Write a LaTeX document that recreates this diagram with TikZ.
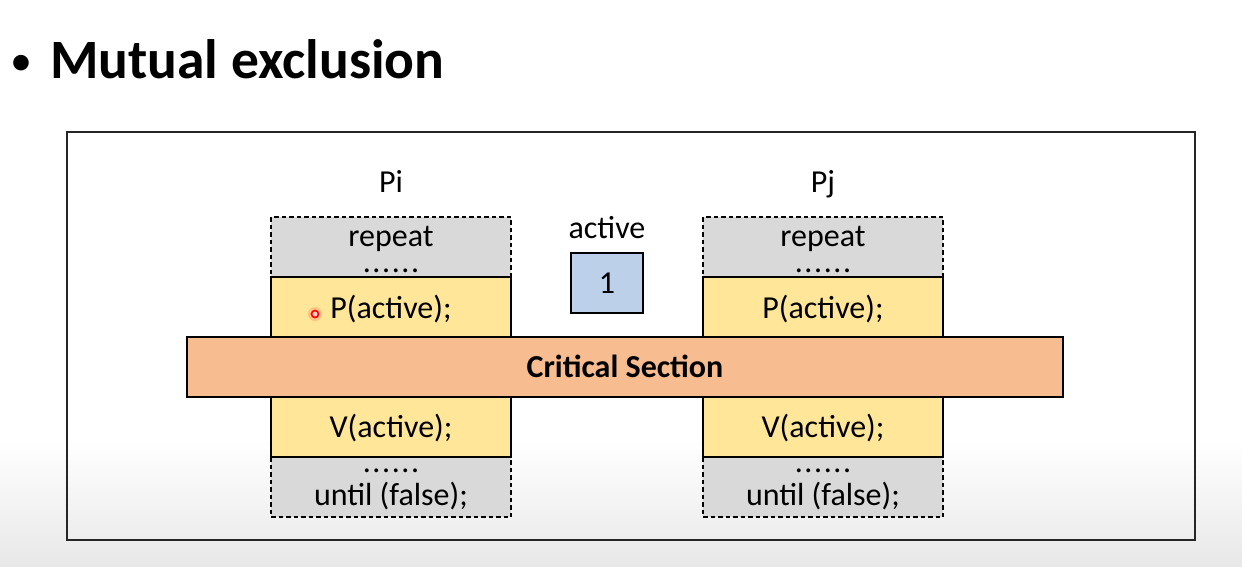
\documentclass[tikz,border=0pt]{standalone}
\usepackage{fontspec}
\setmainfont{Carlito}
\definecolor{grayfill}{HTML}{D9D9D9}
\definecolor{yelfill}{HTML}{FFE699}
\definecolor{orfill}{HTML}{F8BC91}
\definecolor{bluefill}{HTML}{BDD0EA}
\definecolor{bgbottom}{HTML}{E8E8E8}
\newcommand\sixdots{.\kern1.6pt.\kern1.6pt.\kern1.6pt.\kern1.6pt.\kern1.6pt.}
\tikzset{
  graybox/.style={draw=black, dash pattern=on 4.5pt off 3pt, line width=1.2pt, fill=grayfill, minimum width=240, minimum height=60, inner sep=0},
  yelbox/.style={draw=black, line width=1.8pt, fill=yelfill, minimum width=240, minimum height=60, inner sep=0},
  csbox/.style={draw=black, line width=1.8pt, fill=orfill, minimum width=876, minimum height=60, inner sep=0},
  valbox/.style={draw=black, line width=1.5pt, fill=bluefill, minimum width=72, minimum height=60, inner sep=0},
  txt/.style={anchor=base, inner sep=0, font=\fontsize{32}{38}\selectfont},
  frame/.style={draw=black!85, line width=1.8pt}
}
\begin{document}
\begin{tikzpicture}[x=1pt,y=-1pt]
\useasboundingbox (0,0) rectangle (1242,566);
\fill[white] (0,0) rectangle (1242,566);
\shade[top color=white, bottom color=bgbottom] (0,440) rectangle (1242,566);
% title
\node[anchor=base, inner sep=0, font=\fontsize{44}{50}\selectfont] (bul) at (21,75) {•};
\node[anchor=base west, inner sep=0, font=\fontsize{55.5}{60}\selectfont\bfseries] (title) at (50,78) {Mutual exclusion};
% outer frame
\node[frame, minimum width=1128, minimum height=408, inner sep=0] (frm) at (631,336) {};
% labels
\node[txt] (pi) at (391,192) {Pi};
\node[txt] (pj) at (823,192) {Pj};
% Pi column
\node[graybox] (pitop) at (391,247) {};
\node[graybox] (pibot) at (391,487) {};
\node[yelbox] (pip) at (391,307) {};
\node[yelbox] (piv) at (391,427) {};
% Pj column
\node[graybox] (pjtop) at (823,247) {};
\node[graybox] (pjbot) at (823,487) {};
\node[yelbox] (pjp) at (823,307) {};
\node[yelbox] (pjv) at (823,427) {};
% critical section
\node[csbox] (cs) at (625,367) {};
\node[txt, font=\fontsize{32}{38}\selectfont\bfseries] (cst) at (625,377) {Critical Section};
% active
\node[txt] (actl) at (607,238) {active};
\node[valbox] (act) at (607,283) {};
\node[txt] (one) at (607,293) {1};
% texts Pi
\node[txt] (pirep) at (391,246) {repeat};
\node[txt] (pid1) at (391,272) {\sixdots};
\node[txt] (pipt) at (391,318) {P(active);};
\node[txt] (pivt) at (391,437) {V(active);};
\node[txt] (pid2) at (391,472) {\sixdots};
\node[txt] (piun) at (391,505) {until (false);};
% texts Pj
\node[txt] (pjrep) at (823,246) {repeat};
\node[txt] (pjd1) at (823,272) {\sixdots};
\node[txt] (pjpt) at (823,318) {P(active);};
\node[txt] (pjvt) at (823,437) {V(active);};
\node[txt] (pjd2) at (823,472) {\sixdots};
\node[txt] (pjun) at (823,505) {until (false);};
% pointer dot
\fill[red, opacity=0.15] (315,314) circle (7);
\draw[red, line width=1.6pt, fill=white!80!red] (315,314) circle (3.5);
\end{tikzpicture}
\end{document}
